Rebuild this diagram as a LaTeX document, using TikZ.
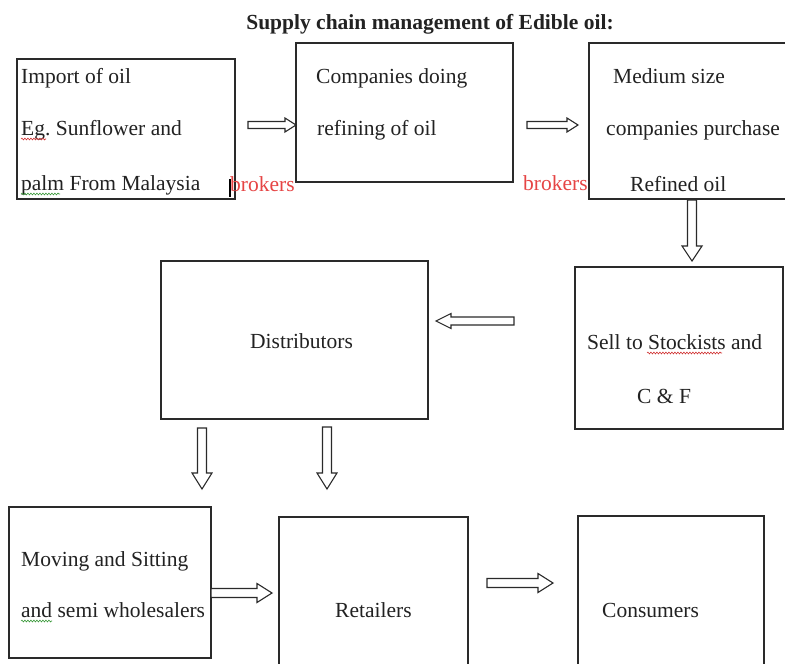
\documentclass[tikz,border=0pt]{standalone}
\usepackage{fontspec}
\setmainfont{Liberation Serif}
\usetikzlibrary{calc,decorations.pathmorphing}
\frenchspacing
\definecolor{ink}{HTML}{222222}
\definecolor{edge}{HTML}{2A2A2A}
\definecolor{brk}{HTML}{E64545}
\definecolor{spellred}{HTML}{D03030}
\definecolor{spellgreen}{HTML}{3A9A3A}
% block arrows: from, to, half shaft, half head, head length
\newcommand\arrR[5]{\draw[blk] let \p1=(#1), \p2=(#2) in (\x1,\y1+#3) -- (\x2-#5,\y1+#3) -- (\x2-#5,\y1+#4) -- (\x2,\y1) -- (\x2-#5,\y1-#4) -- (\x2-#5,\y1-#3) -- (\x1,\y1-#3) -- cycle;}
\newcommand\arrL[5]{\draw[blk] let \p1=(#1), \p2=(#2) in (\x1,\y1+#3) -- (\x2+#5,\y1+#3) -- (\x2+#5,\y1+#4) -- (\x2,\y1) -- (\x2+#5,\y1-#4) -- (\x2+#5,\y1-#3) -- (\x1,\y1-#3) -- cycle;}
\newcommand\arrD[5]{\draw[blk] let \p1=(#1), \p2=(#2) in (\x1-#3,\y1) -- (\x1-#3,\y2+#5) -- (\x1-#4,\y2+#5) -- (\x1,\y2) -- (\x1+#4,\y2+#5) -- (\x1+#3,\y2+#5) -- (\x1+#3,\y1) -- cycle;}
\tikzset{
  box/.style={draw=edge, line width=1.3pt, rectangle, inner sep=0pt, outer sep=0pt},
  txt/.style={inner sep=0pt, anchor=base west, text=ink, font=\fontsize{21.5}{26}\selectfont},
  ttl/.style={inner sep=0pt, anchor=base, text=ink, font=\fontsize{21.5}{26}\selectfont\bfseries},
  brtxt/.style={inner sep=0pt, anchor=base west, text=brk, font=\fontsize{21.5}{26}\selectfont},
  blk/.style={draw=edge, fill=white, line width=1.1pt, line join=miter},
  squig/.style={line width=0.6pt, decorate, decoration={snake, amplitude=0.9pt, segment length=3pt}}
}
\begin{document}
\begin{tikzpicture}[x=1pt,y=-1pt]
\useasboundingbox (0,0) rectangle (785,664);
\fill[white] (0,0) rectangle (785,664);
\clip (0,0) rectangle (785,664);

% title
\node[ttl] (title) at (430,29) {Supply chain management of Edible oil:};

% boxes
\node[box, minimum width=218pt, minimum height=140pt] (imp) at (126,129) {};
\node[box, minimum width=217pt, minimum height=139pt] (comp) at (404.5,112.5) {};
\node[box, minimum width=231pt, minimum height=156pt] (med) at (704.5,121) {};
\node[box, minimum width=267pt, minimum height=158pt] (dist) at (294.5,340) {};
\node[box, minimum width=208pt, minimum height=162pt] (sell) at (679,348) {};
\node[box, minimum width=202pt, minimum height=151pt] (mov) at (110,582.5) {};
\node[box, minimum width=189pt, minimum height=183pt] (ret) at (373.5,608.5) {};
\node[box, minimum width=186pt, minimum height=184pt] (cons) at (671,608) {};

% texts
\node[txt] (imp1) at (21,83) {Import of oil};
\node[txt] (imp2) at (21,135) {Eg. Sunflower and};
\node[txt] (imp3) at (21,190) {palm From Malaysia};
\node[txt] (comp1) at (316,83) {Companies doing};
\node[txt] (comp2) at (317,135) {refining of oil};
\node[txt] (med1) at (613,83) {Medium size};
\node[txt] (med2) at (606,135) {companies purchase};
\node[txt] (med3) at (630,191) {Refined oil};
\node[txt] (dist1) at (250,348) {Distributors};
\node[txt] (sell1) at (587,349) {Sell to Stockists and};
\node[txt] (sell2) at (637,403) {C \& F};
\node[txt] (mov1) at (21,566) {Moving and Sitting};
\node[txt] (mov2) at (21,617) {and semi wholesalers};
\node[txt] (ret1) at (335,617) {Retailers};
\node[txt] (cons1) at (602,617) {Consumers};

% brokers labels
\node[brtxt] (br1) at (230,191) {brokers};
\node[brtxt] (br2) at (523,190) {brokers};
\draw[line width=2.2pt, black] (230,179) -- (230,197);

% spell-check underlines
\draw[squig, spellred] (21,139) -- (46,139);
\draw[squig, spellgreen] (21,194) -- (60,194);
\draw[squig, spellred] (647,353) -- (722,353);
\draw[squig, spellgreen] (21,621) -- (52,621);

% arrow end points
\coordinate (a1s) at (248,125); \coordinate (a1e) at (296,125);
\coordinate (a2s) at (527,125); \coordinate (a2e) at (578,125);
\coordinate (a3s) at (692,200); \coordinate (a3e) at (692,261);
\coordinate (a4s) at (514,321); \coordinate (a4e) at (436,321);
\coordinate (a5s) at (202,428); \coordinate (a5e) at (202,489);
\coordinate (a6s) at (327,427); \coordinate (a6e) at (327,489);
\coordinate (a7s) at (211,593); \coordinate (a7e) at (272,593);
\coordinate (a8s) at (487,583); \coordinate (a8e) at (553,583);

\arrR{a1s}{a1e}{3.5pt}{7pt}{11pt}
\arrR{a2s}{a2e}{3.5pt}{7pt}{11pt}
\arrD{a3s}{a3e}{4.5pt}{10pt}{15pt}
\arrL{a4s}{a4e}{4pt}{7.5pt}{15pt}
\arrD{a5s}{a5e}{4.5pt}{10pt}{16pt}
\arrD{a6s}{a6e}{4.5pt}{10pt}{16pt}
\arrR{a7s}{a7e}{4.5pt}{9.5pt}{15pt}
\arrR{a8s}{a8e}{4.5pt}{9.5pt}{15pt}
\end{tikzpicture}
\end{document}
